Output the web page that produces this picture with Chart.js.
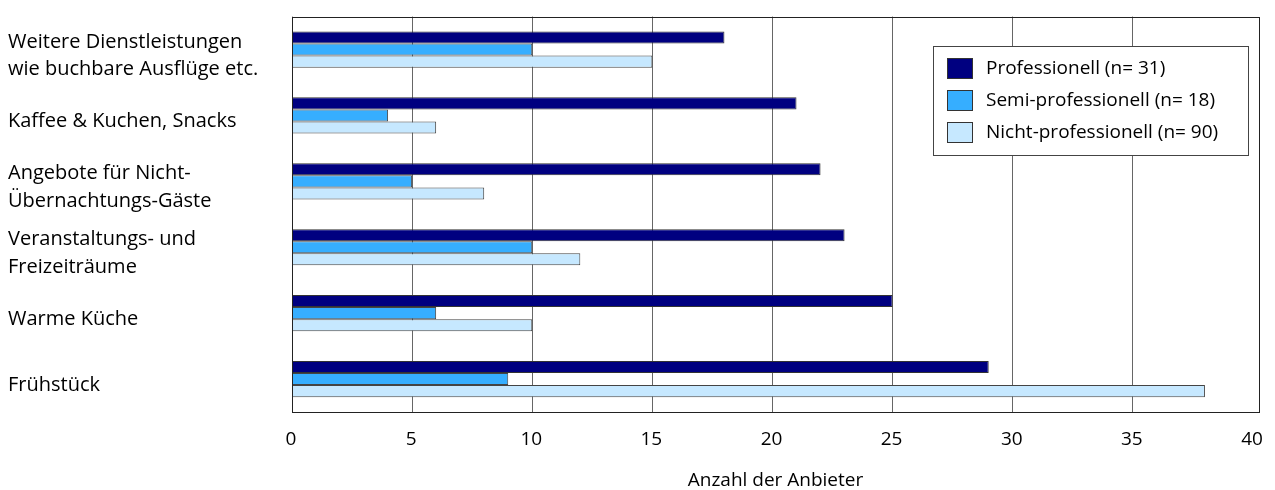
<!DOCTYPE html>
<html>
<head>
<meta charset="utf-8">
<script src="https://cdn.jsdelivr.net/npm/chart.js@4"></script>
<style>
  html, body { margin: 0; padding: 0; background: #fff; }
  #wrap { width: 1275px; height: 490px; }
</style>
</head>
<body>
<div id="wrap"><canvas id="chart"></canvas></div>
<script>
const categories = [
    ['Weitere Dienstleistungen', 'wie buchbare Ausflüge etc.'],
    'Kaffee & Kuchen, Snacks',
    ['Angebote für Nicht-', 'Übernachtungs-Gäste'],
    ['Veranstaltungs- und', 'Freizeiträume'],
    'Warme Küche',
    'Frühstück'
];
const seriesNames = ['Professionell (n= 31)', 'Semi-professionell (n= 18)', 'Nicht-professionell (n= 90)'];
const professionell = [18, 21, 22, 23, 25, 29];
const semiProfessionell = [10, 4, 5, 10, 6, 9];
const nichtProfessionell = [15, 6, 8, 12, 10, 38];
const xTicks = [0, 5, 10, 15, 20, 25, 30, 35, 40];

const FONT = '"Open Sans", "Noto Sans", sans-serif';
const FONT_SIZE = 19;

// frame around the plot + boxed legend inside it
const frameAndLegend = {
    id: 'frameAndLegend',
    afterDraw(chart) {
        const ctx = chart.ctx;
        const a = chart.chartArea;
        ctx.save();
        ctx.strokeStyle = '#222';
        ctx.lineWidth = 1;
        ctx.strokeRect(Math.round(a.left) + 0.5, Math.round(a.top) + 0.5,
            Math.round(a.right - a.left), Math.round(a.bottom - a.top));

        const bx = Math.round(a.right) - 326, by = Math.round(a.top) + 29, bw = 315, bh = 109;
        ctx.fillStyle = '#fff';
        ctx.fillRect(bx, by, bw, bh);
        ctx.strokeStyle = '#444';
        ctx.strokeRect(bx + 0.5, by + 0.5, bw, bh);
        ctx.font = FONT_SIZE + 'px ' + FONT;
        ctx.textBaseline = 'middle';
        chart.data.datasets.forEach((ds, i) => {
            const y = by + 12 + i * 32;
            ctx.fillStyle = ds.backgroundColor;
            ctx.fillRect(bx + 14, y, 25, 20);
            ctx.strokeStyle = '#333';
            ctx.strokeRect(bx + 14.5, y + 0.5, 25, 20);
            ctx.fillStyle = '#000';
            ctx.fillText(ds.label, bx + 53, y + 11);
        });
        ctx.restore();
    }
};

new Chart(document.getElementById('chart'), {
    type: 'bar',
    data: {
        labels: categories,
        datasets: [
            { label: seriesNames[0], data: professionell, backgroundColor: '#000080', borderColor: '#333', borderWidth: 1 },
            { label: seriesNames[1], data: semiProfessionell, backgroundColor: '#36AEFF', borderColor: '#444', borderWidth: 1 },
            { label: seriesNames[2], data: nichtProfessionell, backgroundColor: '#C6E8FF', borderColor: '#444', borderWidth: 1 }
        ]
    },
    options: {
        indexAxis: 'y',
        responsive: true,
        maintainAspectRatio: false,
        animation: false,
        categoryPercentage: 0.55,
        barPercentage: 1.0,
        layout: { padding: { left: 8, right: 16, top: 13, bottom: 0 } },
        plugins: {
            legend: { display: false },
            tooltip: { enabled: false }
        },
        scales: {
            x: {
                min: 0,
                max: 40.25,   // the frame in the original sits a little past 40
                afterBuildTicks: scale => { scale.ticks = xTicks.map(v => ({ value: v })); },
                afterFit: scale => {
                    scale.height = 78;
                    scale.paddingLeft = 0;
                    scale.paddingRight = 0;
                },
                grid: {
                    color: ctx => (ctx.tick && ctx.tick.value === 40) ? 'rgba(0,0,0,0)' : '#666',
                    drawTicks: false
                },
                border: { display: false },
                ticks: { color: '#000', padding: 16, labelOffset: -1, font: { family: FONT, size: FONT_SIZE } },
                title: {
                    display: true,
                    text: 'Anzahl der Anbieter',
                    color: '#000',
                    font: { family: FONT, size: FONT_SIZE, lineHeight: 1 },
                    padding: { top: 0, bottom: 0 }
                }
            },
            y: {
                grid: { display: false, drawTicks: false },
                border: { display: false },
                afterFit: scale => { scale.width = 284; },
                ticks: {
                    crossAlign: 'far',
                    labelOffset: 6,
                    color: '#000',
                    font: { family: FONT, size: 20, lineHeight: 1.36 }
                }
            }
        }
    },
    plugins: [frameAndLegend]
});
</script>
</body>
</html>
